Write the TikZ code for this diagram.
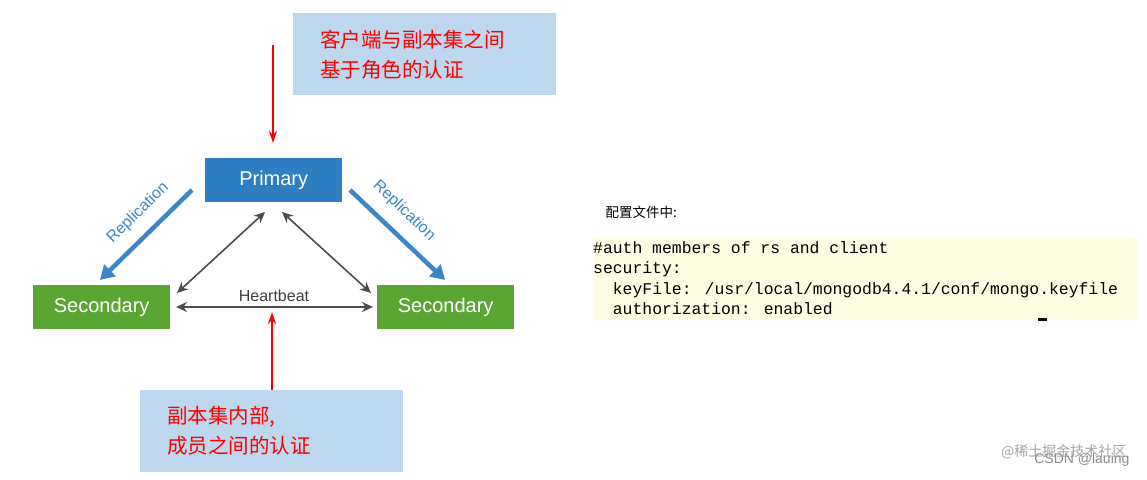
\documentclass[tikz,border=0pt]{standalone}
\usepackage{fontspec}
\setmainfont{Liberation Sans}
\newfontfamily\cjk{Noto Sans CJK SC}
\newfontfamily\mono{Liberation Mono}
\usetikzlibrary{arrows.meta}
\definecolor{lb}{HTML}{BDD7EE}
\definecolor{pb}{HTML}{2E7FC1}
\definecolor{sg}{HTML}{5BA532}
\definecolor{rb}{HTML}{3A87C8}
\definecolor{yb}{HTML}{FDFDE2}
\begin{document}
\begin{tikzpicture}[x=1pt,y=-1pt,
  note/.style={draw=none,fill=lb,minimum width=263pt,minimum height=82pt,text=red,font=\cjk\fontsize{20.5}{30}\selectfont,align=left,text width=209pt,inner xsep=27pt},
  srv/.style={fill=#1,text=white,minimum width=137pt,minimum height=44pt,font=\fontsize{20}{22}\selectfont},
  red/.style={draw=red,line width=2pt,-{Stealth[length=12pt,width=8pt]}},
  rep/.style={draw=rb,line width=4.5pt,-{Triangle[length=14pt,width=16pt]}},
  hb/.style={draw=black!70,line width=1.6pt,{Stealth[length=11pt,width=10pt]}-{Stealth[length=11pt,width=10pt]}},
  code/.style={font=\mono\fontsize{16.4}{20.3}\selectfont,anchor=north west,align=left}]
\useasboundingbox (0,0) rectangle (1147,479);
\fill[white] (0,0) rectangle (1147,479);
\node[note,anchor=north west] (top) at (293,13) {客户端与副本集之间\\基于角色的认证};
\node[note,anchor=north west] (bot) at (140,390) {副本集内部,\\成员之间的认证};
\node[srv=pb,anchor=north west] (p) at (205,158) {Primary};
\node[srv=sg,anchor=north west] (s1) at (33,285) {Secondary};
\node[srv=sg,anchor=north west] (s2) at (377,285) {Secondary};
\coordinate (ta) at (273,45);
\coordinate (tb) at (273,143);
\draw[red] (ta) -- (tb);
\coordinate (ba) at (272,390);
\coordinate (bb) at (272,312);
\draw[red] (ba) -- (bb);
\coordinate (r1a) at (192,190); \coordinate (r1b) at (100,280);
\draw[rep] (r1a) -- (r1b);
\coordinate (r2a) at (350,190); \coordinate (r2b) at (445,280);
\draw[rep] (r2a) -- (r2b);
\node[text=rb,rotate=44.4,font=\fontsize{16}{18}\selectfont] (rl1) at (138,213) {Replication};
\node[text=rb,rotate=-43.5,font=\fontsize{16}{18}\selectfont] (rl2) at (404,211) {Replication};
\coordinate (h1a) at (265,212); \coordinate (h1b) at (177,293);
\coordinate (h2a) at (282,212); \coordinate (h2b) at (371,293);
\coordinate (h3a) at (176,307); \coordinate (h3b) at (373,307);
\draw[hb] (h1a) -- (h1b);
\draw[hb] (h2a) -- (h2b);
\draw[hb] (h3a) -- (h3b);
\node[text=black!75,font=\fontsize{16}{18}\selectfont] (hbl) at (274,296) {Heartbeat};
\node[font=\cjk\fontsize{13.5}{16}\selectfont,anchor=west] (cfg) at (602,212) {配置文件中:};
\fill[yb] (593,238) rectangle (1137,320);
\node[code,inner xsep=0pt] (c) at (593,238) {\#auth members of rs and client\\security:\\\ \ keyFile: /usr/local/mongodb4.4.1/conf/mongo.keyfile\\\ \ authorization: enabled};
\fill[black] (1038,318) rectangle (1047,321);
\node[text=black!35,font=\cjk\fontsize{14}{16}\selectfont,anchor=east] (wm1) at (1130,452) {@稀土掘金技术社区};
\node[text=black!45,font=\fontsize{14}{16}\selectfont,anchor=east] (wm2) at (1133,460) {CSDN @lauing};
\end{tikzpicture}
\end{document}
